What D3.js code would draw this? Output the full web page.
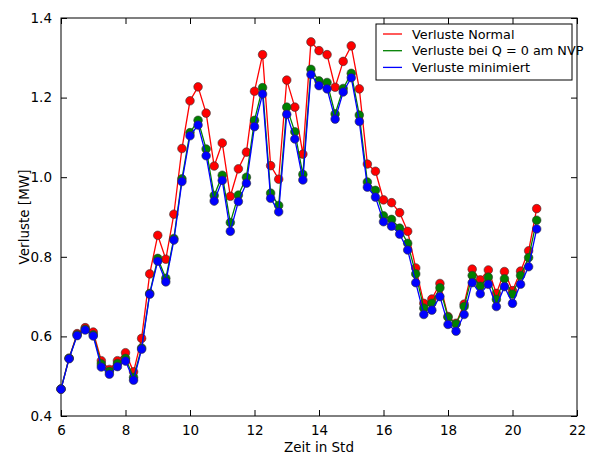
<!DOCTYPE html>
<html>
<head>
<meta charset="utf-8">
<script src="https://cdn.jsdelivr.net/npm/d3@7"></script>
<style>
  body { margin: 0; background: #fff; }
  text { font-family: "DejaVu Sans", sans-serif; fill: #000; }
</style>
</head>
<body>
<div id="chart"></div>
<script>
// time axis: every quarter hour from 6:00 to 20:45
var hours = d3.range(60).map(function(i) { return 6 + i * 0.25; });

var verlusteNormal = [
  0.468, 0.545, 0.607, 0.622, 0.611, 0.539, 0.517, 0.539, 0.559, 0.511,
  0.595, 0.757, 0.854, 0.794, 0.907, 1.072, 1.192, 1.227, 1.161, 1.028,
  1.086, 0.952, 1.021, 1.063, 1.216, 1.308, 1.029, 0.995, 1.244, 1.176,
  1.058, 1.340, 1.318, 1.308, 1.226, 1.291, 1.330, 1.222, 1.033, 1.015,
  0.943, 0.936, 0.911, 0.864, 0.772, 0.683, 0.694, 0.733, 0.650, 0.633,
  0.681, 0.769, 0.742, 0.767, 0.708, 0.763, 0.715, 0.764, 0.815, 0.921
];
var verlusteQ0 = [
  0.468, 0.545, 0.604, 0.618, 0.604, 0.531, 0.512, 0.532, 0.545, 0.497,
  0.571, 0.708, 0.796, 0.746, 0.846, 0.996, 1.112, 1.143, 1.071, 0.954,
  1.005, 0.886, 0.955, 1.000, 1.143, 1.225, 0.960, 0.929, 1.176, 1.114,
  1.007, 1.271, 1.242, 1.238, 1.159, 1.223, 1.261, 1.156, 0.988, 0.967,
  0.903, 0.894, 0.872, 0.834, 0.757, 0.671, 0.683, 0.722, 0.648, 0.631,
  0.675, 0.753, 0.726, 0.749, 0.693, 0.745, 0.706, 0.753, 0.798, 0.892
];
var verlusteMin = [
  0.467, 0.544, 0.602, 0.616, 0.601, 0.523, 0.505, 0.524, 0.538, 0.490,
  0.568, 0.706, 0.789, 0.737, 0.842, 0.989, 1.104, 1.131, 1.054, 0.940,
  0.992, 0.864, 0.939, 0.985, 1.127, 1.209, 0.947, 0.913, 1.158, 1.096,
  0.993, 1.258, 1.230, 1.222, 1.146, 1.214, 1.250, 1.140, 0.975, 0.950,
  0.888, 0.877, 0.857, 0.817, 0.735, 0.655, 0.666, 0.700, 0.630, 0.613,
  0.655, 0.735, 0.707, 0.731, 0.675, 0.725, 0.683, 0.731, 0.775, 0.870
];

var seriesNames = ["Verluste Normal", "Verluste bei Q = 0 am NVP", "Verluste minimiert"];
var seriesColours = ["#ff0000", "#008000", "#0000ff"];

var xTicks = [6, 8, 10, 12, 14, 16, 18, 20, 22];
var yTicks = [0.4, 0.6, 0.8, 1.0, 1.2, 1.4];

var w = 596;
var h = 454;
var margin = { top: 18, right: 19, bottom: 38, left: 61 };

var svg = d3.select("#chart")
  .append("svg")
  .attr("width", w)
  .attr("height", h);

var x = d3.scaleLinear()
  .domain([6, 22])
  .range([margin.left, w - margin.right]);

var y = d3.scaleLinear()
  .domain([0.4, 1.4])
  .range([h - margin.bottom, margin.top]);

// axes with inward ticks, on all four sides (classic matplotlib)
svg.append("g")
  .attr("transform", "translate(0," + y(0.4) + ")")
  .call(d3.axisBottom(x).tickValues(xTicks).tickSize(-6).tickPadding(9).tickFormat(d3.format("d")));
svg.append("g")
  .attr("transform", "translate(0," + y(1.4) + ")")
  .call(d3.axisTop(x).tickValues(xTicks).tickSize(-6).tickFormat(""));
svg.append("g")
  .attr("transform", "translate(" + x(6) + ",0)")
  .call(d3.axisLeft(y).tickValues(yTicks).tickSize(-6).tickPadding(9).tickFormat(d3.format(".1f")));
svg.append("g")
  .attr("transform", "translate(" + x(22) + ",0)")
  .call(d3.axisRight(y).tickValues(yTicks).tickSize(-6).tickFormat(""));

svg.selectAll(".domain").remove();
svg.selectAll(".tick line").attr("stroke", "#000").attr("stroke-width", 1);
svg.selectAll(".tick text").style("font-size", "13.5px").style("font-family", "DejaVu Sans, sans-serif").attr("fill", "#000");

svg.append("rect")
  .attr("x", x(6))
  .attr("y", y(1.4))
  .attr("width", x(22) - x(6))
  .attr("height", y(0.4) - y(1.4))
  .attr("fill", "none")
  .attr("stroke", "#000")
  .attr("stroke-width", 1);

var allSeries = [verlusteNormal, verlusteQ0, verlusteMin];

var line = d3.line()
  .x(function(d, i) { return x(hours[i]); })
  .y(function(d) { return y(d); });

allSeries.forEach(function(values, k) {
  var g = svg.append("g");
  g.append("path")
    .datum(values)
    .attr("d", line)
    .attr("fill", "none")
    .attr("stroke", seriesColours[k])
    .attr("stroke-width", 1.3);
  g.selectAll("circle")
    .data(values)
    .enter()
    .append("circle")
    .attr("cx", function(d, i) { return x(hours[i]); })
    .attr("cy", function(d) { return y(d); })
    .attr("r", 4.3)
    .attr("fill", seriesColours[k])
    .attr("stroke", "#333")
    .attr("stroke-width", 0.6);
});

// axis labels
svg.append("text")
  .attr("x", (x(6) + x(22)) / 2)
  .attr("y", 452)
  .attr("text-anchor", "middle")
  .style("font-size", "13.5px")
  .text("Zeit in Std");

svg.append("text")
  .attr("transform", "translate(29," + (y(0.4) + y(1.4)) / 2 + ") rotate(-90)")
  .attr("text-anchor", "middle")
  .style("font-size", "13.5px")
  .text("Verluste [MW]");

// legend
var legend = svg.append("g").attr("transform", "translate(376,24)");
legend.append("rect")
  .attr("width", 196)
  .attr("height", 56)
  .attr("fill", "#fff")
  .attr("stroke", "#000")
  .attr("stroke-width", 1);

seriesNames.forEach(function(name, k) {
  var ly = 10 + k * 16.7;
  legend.append("line")
    .attr("x1", 7)
    .attr("x2", 26)
    .attr("y1", ly)
    .attr("y2", ly)
    .attr("stroke", seriesColours[k])
    .attr("stroke-width", 1.3);
  legend.append("text")
    .attr("x", 36)
    .attr("y", ly + 4.6)
    .attr("textLength", null)
    .style("font-size", "12.8px")
    .text(name);
});
</script>
</body>
</html>
